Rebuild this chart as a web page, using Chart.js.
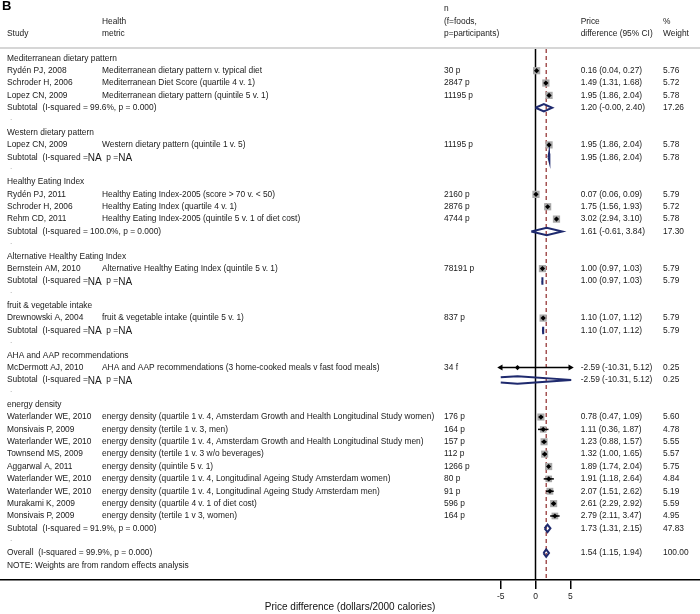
<!DOCTYPE html>
<html>
<head>
<meta charset="utf-8">
<script src="https://cdn.jsdelivr.net/npm/chart.js@4.4.0/dist/chart.umd.min.js"></script>
<style>
  html, body { margin: 0; padding: 0; background: #fff; }
  #wrap { width: 700px; height: 614px; }
</style>
</head>
<body>
<div id="wrap"><canvas id="forest" width="700" height="614"></canvas></div>
<script>
// ---- data ----
const groups = ['Mediterranean dietary pattern', 'Western dietary pattern', 'Healthy Eating Index',
  'Alternative Healthy Eating Index', 'fruit & vegetable intake', 'AHA and AAP recommendations', 'energy density'];

const studyNames = ['Rydén PJ, 2008', 'Schroder H, 2006', 'Lopez CN, 2009', 'Lopez CN, 2009',
  'Rydén PJ, 2011', 'Schroder H, 2006', 'Rehm CD, 2011', 'Bernstein AM, 2010', 'Drewnowski A, 2004',
  'McDermott AJ, 2010', 'Waterlander WE, 2010', 'Monsivais P, 2009', 'Waterlander WE, 2010',
  'Townsend MS, 2009', 'Aggarwal A, 2011', 'Waterlander WE, 2010', 'Waterlander WE, 2010',
  'Murakami K, 2009', 'Monsivais P, 2009'];
const studyGroup = [0, 0, 0, 1, 2, 2, 2, 3, 4, 5, 6, 6, 6, 6, 6, 6, 6, 6, 6];
const metrics = ['Mediterranean dietary pattern v. typical diet', 'Mediterranean Diet Score (quartile 4 v. 1)',
  'Mediterranean dietary pattern (quintile 5 v. 1)', 'Western dietary pattern (quintile 1 v. 5)',
  'Healthy Eating Index-2005 (score > 70 v. < 50)', 'Healthy Eating Index (quartile 4 v. 1)',
  'Healthy Eating Index-2005 (quintile 5 v. 1 of diet cost)', 'Alternative Healthy Eating Index (quintile 5 v. 1)',
  'fruit & vegetable intake (quintile 5 v. 1)', 'AHA and AAP recommendations (3 home-cooked meals v fast food meals)',
  'energy density (quartile 1 v. 4, Amsterdam Growth and Health Longitudinal Study women)',
  'energy density (tertile 1 v. 3, men)',
  'energy density (quartile 1 v. 4, Amsterdam Growth and Health Longitudinal Study men)',
  'energy density (tertile 1 v. 3 w/o beverages)', 'energy density (quintile 5 v. 1)',
  'energy density (quartile 1 v. 4, Longitudinal Ageing Study Amsterdam women)',
  'energy density (quartile 1 v. 4, Longitudinal Ageing Study Amsterdam men)',
  'energy density (quartile 4 v. 1 of diet cost)', 'energy density (tertile 1 v 3, women)'];
const sampleN = ['30 p', '2847 p', '11195 p', '11195 p', '2160 p', '2876 p', '4744 p', '78191 p', '837 p', '34 f',
  '176 p', '164 p', '157 p', '112 p', '1266 p', '80 p', '91 p', '596 p', '164 p'];
const est = [0.16, 1.49, 1.95, 1.95, 0.07, 1.75, 3.02, 1.00, 1.10, -2.59, 0.78, 1.11, 1.23, 1.32, 1.89, 1.91, 2.07, 2.61, 2.79];
const lo  = [0.04, 1.31, 1.86, 1.86, 0.06, 1.56, 2.94, 0.97, 1.07, -10.31, 0.47, 0.36, 0.88, 1.00, 1.74, 1.18, 1.51, 2.29, 2.11];
const hi  = [0.27, 1.68, 2.04, 2.04, 0.09, 1.93, 3.10, 1.03, 1.12, 5.12, 1.09, 1.87, 1.57, 1.65, 2.04, 2.64, 2.62, 2.92, 3.47];
const weight = [5.76, 5.72, 5.78, 5.78, 5.79, 5.72, 5.78, 5.79, 5.79, 0.25, 5.60, 4.78, 5.55, 5.57, 5.75, 4.84, 5.19, 5.59, 4.95];

const subHet = ['I-squared = 99.6%, p = 0.000', null, 'I-squared = 100.0%, p = 0.000', null, null, null, 'I-squared = 91.9%, p = 0.000'];
const subEst = [1.20, 1.95, 1.61, 1.00, 1.10, -2.59, 1.73];
const subLo  = [-0.00, 1.86, -0.61, 0.97, 1.07, -10.31, 1.31];
const subHi  = [2.40, 2.04, 3.84, 1.03, 1.12, 5.12, 2.15];
const subWeight = [17.26, 5.78, 17.30, 5.79, 5.79, 0.25, 47.83];

const overallHet = 'I-squared = 99.9%, p = 0.000';
const overallEst = 1.54, overallLo = 1.15, overallHi = 1.94, overallWeight = 100.00;

const xTicks = [-5, 0, 5];
const xTitle = 'Price difference (dollars/2000 calories)';

// ---- layout ----
const FONT = "'Liberation Sans', Arial, sans-serif";
const CLIP_LO = -5, CLIP_HI = 5;
const ROW0 = 58.3, ROW_H = 12.37, PLOT_BOTTOM = 580;
const Y_MIN = -ROW0 / ROW_H;
const Y_MAX = Y_MIN + PLOT_BOTTOM / ROW_H;
const ZERO_PX = 535.5, PX_PER_UNIT = 6.95;
const X_MIN = -ZERO_PX / PX_PER_UNIT;
const X_MAX = (700 - ZERO_PX) / PX_PER_UNIT;
const DIAMOND_H = 0.3;
const NAVY = '#1f2a6e';

// build the rows
const rows = [];
let r = 0;
groups.forEach((g, gi) => {
  rows.push({ kind: 'group', row: r++, gi });
  studyGroup.forEach((sg, si) => { if (sg === gi) rows.push({ kind: 'study', row: r++, si }); });
  rows.push({ kind: 'sub', row: r++, gi });
  rows.push({ kind: 'dot', row: r++ });
});
const overallRow = r++;
const noteRow = r++;
const studyRow = {};
const subRow = {};
rows.forEach(o => { if (o.kind === 'study') studyRow[o.si] = o.row; if (o.kind === 'sub') subRow[o.gi] = o.row; });

const fmt = v => (Object.is(v, -0) ? '-0.00' : v.toFixed(2));
const ciText = (e, l, h) => `${fmt(e)} (${fmt(l)}, ${fmt(h)})`;

function diamond(l, m, h, row) {
  const half = x => (x <= m ? DIAMOND_H * (x - l) / ((m - l) || 1) : DIAMOND_H * (h - x) / ((h - m) || 1));
  const lx = Math.max(l, CLIP_LO), rx = Math.min(h, CLIP_HI);
  const pts = [];
  pts.push({ x: lx, y: row - half(lx) });
  if (m > lx && m < rx) pts.push({ x: m, y: row - DIAMOND_H });
  pts.push({ x: rx, y: row - half(rx) });
  if (half(rx) > 0) pts.push({ x: rx, y: row + half(rx) });
  if (m > lx && m < rx) pts.push({ x: m, y: row + DIAMOND_H });
  pts.push({ x: lx, y: row + half(lx) });
  if (lx === l) pts.push({ x: lx, y: row });
  return pts;
}

const datasets = [];
// null line and overall line
datasets.push({ data: [{ x: 0, y: -0.75 }, { x: 0, y: Y_MAX }], showLine: true, borderColor: '#000',
  borderWidth: 1.5, pointRadius: 0, order: 9 });
datasets.push({ data: [{ x: overallEst, y: -0.75 }, { x: overallEst, y: Y_MAX }], showLine: true,
  borderColor: '#8e2a2a', borderWidth: 1.2, borderDash: [4, 3], pointRadius: 0, order: 8 });
// weight squares
datasets.push({
  data: est.map((e, i) => ({ x: e, y: studyRow[i] })),
  pointStyle: 'rect', pointRadius: weight.map(w => 3.0 * Math.sqrt(w) / Math.SQRT2),
  pointBackgroundColor: '#a9a9a9', pointBorderWidth: 0, borderWidth: 0, order: 5
});
// confidence intervals
est.forEach((e, i) => {
  const l = lo[i], h = hi[i];
  datasets.push({
    data: [{ x: Math.max(l, CLIP_LO), y: studyRow[i] }, { x: Math.min(h, CLIP_HI), y: studyRow[i] }],
    showLine: true, borderColor: '#000', borderWidth: 1.5,
    pointStyle: 'triangle', pointRotation: [-90, 90],
    pointRadius: [l < CLIP_LO ? 3.5 : 0, h > CLIP_HI ? 3.5 : 0],
    pointBackgroundColor: '#000', pointBorderColor: '#000', pointBorderWidth: 0, order: 4
  });
});
// subtotal and overall diamonds
subEst.forEach((m, gi) => {
  datasets.push({ data: diamond(subLo[gi], m, subHi[gi], subRow[gi]), showLine: true, borderColor: NAVY,
    borderWidth: 2, pointRadius: 0, tension: 0, order: 3 });
});
datasets.push({ data: diamond(overallLo, overallEst, overallHi, overallRow), showLine: true, borderColor: NAVY,
  borderWidth: 2, pointRadius: 0, tension: 0, order: 3 });
// study point estimates
datasets.push({
  data: est.map((e, i) => ({ x: e, y: studyRow[i] })),
  pointStyle: 'rectRot', pointRadius: 2.6, pointBackgroundColor: '#000', pointBorderWidth: 0, order: 1
});

// ---- table text ----
const COL_STUDY = 7, COL_METRIC = 102, COL_N = 444, COL_CI = 580.7, COL_W = 663;
const tablePlugin = {
  id: 'forestTable',
  beforeDatasetsDraw(chart) {
    const ctx = chart.ctx, ys = chart.scales.y;
    ctx.save();
    ctx.strokeStyle = '#d6d6d6';
    ctx.lineWidth = 2;
    ctx.beginPath();
    const y = ys.getPixelForValue(-0.83);
    ctx.moveTo(0, y); ctx.lineTo(700, y);
    ctx.stroke();
    ctx.restore();
  },
  afterDraw(chart) {
    const ctx = chart.ctx, ys = chart.scales.y;
    const font = `8.4px ${FONT}`;
    const big = `10px ${FONT}`;
    const put = (txt, x, row, f, color) => {
      ctx.font = f || font;
      ctx.fillStyle = color || '#1a1a1a';
      ctx.fillText(txt, x, ys.getPixelForValue(row));
      return ctx.measureText(txt).width;
    };
    ctx.save();
    ctx.textBaseline = 'middle';
    ctx.textAlign = 'left';

    ctx.font = `bold 13px ${FONT}`;
    ctx.fillStyle = '#000';
    ctx.fillText('B', 2, 6);

    put('n', COL_N, -4);
    put('Health', COL_METRIC, -3); put('(f=foods,', COL_N, -3); put('Price', COL_CI, -3); put('%', COL_W, -3);
    put('Study', COL_STUDY, -2); put('metric', COL_METRIC, -2); put('p=participants)', COL_N, -2);
    put('difference (95% CI)', COL_CI, -2); put('Weight', COL_W, -2);

    rows.forEach(o => {
      if (o.kind === 'group') {
        put(groups[o.gi], COL_STUDY, o.row);
      } else if (o.kind === 'study') {
        const i = o.si;
        put(studyNames[i], COL_STUDY, o.row);
        put(metrics[i], COL_METRIC, o.row);
        put(sampleN[i], COL_N, o.row);
        put(ciText(est[i], lo[i], hi[i]), COL_CI, o.row);
        put(weight[i].toFixed(2), COL_W, o.row);
      } else if (o.kind === 'sub') {
        const gi = o.gi;
        if (subHet[gi]) {
          put(`Subtotal  (${subHet[gi]})`, COL_STUDY, o.row);
        } else {
          let x = COL_STUDY;
          x += put('Subtotal  (I-squared =', x, o.row);
          x += put('NA', x, o.row + 0.08, big);
          x += put('  p =', x, o.row);
          put('NA', x, o.row + 0.08, big);
        }
        put(ciText(subEst[gi], subLo[gi], subHi[gi]), COL_CI, o.row);
        put(subWeight[gi].toFixed(2), COL_W, o.row);
      } else {
        put('.', 10, o.row - 0.2, font, '#b0b0b0');
      }
    });
    put(`Overall  (${overallHet})`, COL_STUDY, overallRow);
    put(ciText(overallEst, overallLo, overallHi), COL_CI, overallRow);
    put(overallWeight.toFixed(2), COL_W, overallRow);
    put('NOTE: Weights are from random effects analysis', COL_STUDY, noteRow);
    ctx.restore();
  }
};

new Chart(document.getElementById('forest').getContext('2d'), {
  type: 'scatter',
  data: { datasets },
  plugins: [tablePlugin],
  options: {
    responsive: false,
    animation: false,
    events: [],
    layout: { padding: 0, autoPadding: false },
    plugins: { legend: { display: false }, tooltip: { enabled: false } },
    scales: {
      x: {
        type: 'linear', min: X_MIN, max: X_MAX,
        afterBuildTicks: axis => { axis.ticks = xTicks.map(v => ({ value: v })); },
        afterFit: axis => { axis.height = 34; },
        grid: { display: true, drawOnChartArea: false, drawTicks: true, tickLength: 9, color: '#000', lineWidth: 1.5 },
        border: { display: true, color: '#000', width: 1.5 },
        ticks: { autoSkip: false, maxRotation: 0, padding: 3, color: '#222', font: { size: 8.5, family: FONT } },
        title: { display: true, text: xTitle, color: '#111', font: { size: 10, family: FONT }, padding: { top: 0, bottom: 1 } }
      },
      y: { type: 'linear', display: false, reverse: true, min: Y_MIN, max: Y_MAX }
    }
  }
});
</script>
</body>
</html>
